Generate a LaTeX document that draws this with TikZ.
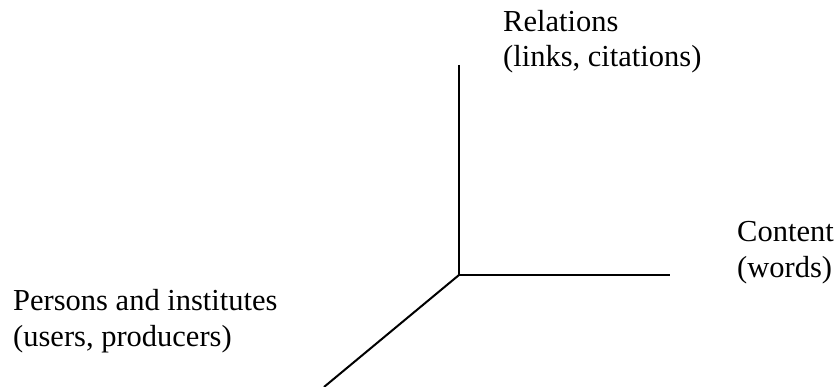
\documentclass[tikz,border=0pt]{standalone}
\usepackage{fontspec}
\setmainfont{Liberation Serif}
\tikzset{
  axislabel/.style={align=left, inner sep=0pt, anchor=base west,
    font=\fontsize{30.5}{35.5}\selectfont},
  axisline/.style={line width=2pt}
}
\begin{document}
\begin{tikzpicture}[x=1pt,y=-1pt]
    \useasboundingbox (0,0) rectangle (835,387);
    % Axes
    \coordinate (origin) at (459,275);
    \coordinate (relend) at (459,65);
    \coordinate (conend) at (670,275);
    \coordinate (perend) at (324,387);
    \draw[axisline] (relend) -- (origin) -- (conend);
    \draw[axisline] (origin) -- (perend);

    % Labels (base = baseline of the last line)
    \node[axislabel] (relations) at (503,67) {Relations\\(links, citations)};
    \node[axislabel] (content) at (737,277) {Content\\(words)};
    \node[axislabel] (persons) at (13,346) {Persons and institutes\\(users, producers)};
\end{tikzpicture}
\end{document}
